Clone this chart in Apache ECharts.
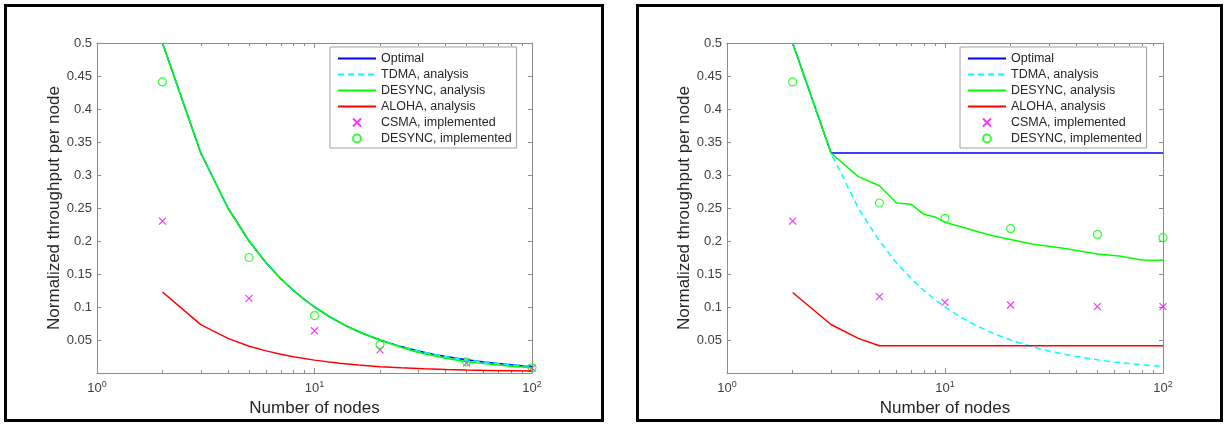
<!DOCTYPE html>
<html>
<head>
<meta charset="utf-8">
<script src="https://cdn.jsdelivr.net/npm/echarts@6/dist/echarts.min.js"></script>
<style>
  html, body { margin: 0; padding: 0; background: #fff; }
  #chart { position: absolute; left: 0; top: 0; width: 1224px; height: 425px; }
  .frame { position: absolute; border: 3px solid #000; box-sizing: border-box; pointer-events: none; }
</style>
</head>
<body>
<div id="chart"></div>
<div class="frame" style="left:4px;top:4px;width:600px;height:418px"></div>
<div class="frame" style="left:636px;top:4px;width:587px;height:418px"></div>
<script>
/* two matlab-style throughput plots, log x axis */
const seriesNames = ['Optimal', 'TDMA, analysis', 'DESYNC, analysis', 'ALOHA, analysis',
  'CSMA, implemented', 'DESYNC, implemented'];

// analysis curves
const tdmaNodes = [2, 3, 4, 5, 6, 7, 8, 9, 10, 12, 14, 16, 18, 20, 25, 30, 35, 40, 45, 50, 60, 70, 80, 90, 100];
const tdmaVals = [0.5, 0.3333, 0.25, 0.2, 0.1667, 0.1429, 0.125, 0.1111, 0.1, 0.0833, 0.0714, 0.0625, 0.0556,
  0.05, 0.04, 0.0333, 0.0286, 0.025, 0.0222, 0.02, 0.0167, 0.0143, 0.0125, 0.0111, 0.01];
const optLeftVals = tdmaVals;
const optRightNodes = [2, 3, 100];
const optRightVals = [0.5, 0.3333, 0.3333];

const desyncLeftNodes = [2, 3, 4, 5, 6, 7, 8, 9, 10, 12, 14, 16, 20, 25, 30, 40, 50, 60, 70, 80, 90, 100];
const desyncLeft = [0.5, 0.3333, 0.25, 0.2, 0.1667, 0.1429, 0.125, 0.1111, 0.1, 0.0833, 0.0714, 0.0625, 0.05,
  0.039, 0.031, 0.0225, 0.0172, 0.0142, 0.012, 0.0103, 0.009, 0.008];
const desyncRightNodes = [2, 3, 4, 5, 6, 7, 8, 9, 10, 16, 25, 35, 50, 63, 80, 100];
const desyncRight = [0.5, 0.3333, 0.2975, 0.2838, 0.2576, 0.2556, 0.2404, 0.2365, 0.2285, 0.209, 0.1955,
  0.189, 0.1803, 0.1773, 0.1712, 0.1707];

const alohaNodes = [2, 3, 4, 5, 6, 7, 8, 10, 13, 16, 20, 25, 32, 40, 50, 63, 80, 100];
const alohaLeft = [0.1227, 0.0732, 0.0525, 0.0405, 0.0335, 0.0285, 0.0245, 0.0195, 0.0148, 0.012, 0.0096,
  0.0078, 0.0063, 0.0053, 0.0045, 0.0039, 0.0034, 0.003];
const alohaRightNodes = [2, 3, 4, 5, 100];
const alohaRight = [0.122, 0.0735, 0.0525, 0.0414, 0.0414];

// measured points
const implNodes = [2, 5, 10, 20, 50, 100];
const csmaLeft = [0.23, 0.113, 0.064, 0.035, 0.015, 0.0075];
const desyncImplLeft = [0.441, 0.175, 0.087, 0.043, 0.017, 0.0078];
const csmaRight = [0.23, 0.1157, 0.107, 0.103, 0.1005, 0.1005];
const desyncImplRight = [0.441, 0.2576, 0.2344, 0.2187, 0.21, 0.205];

const yTicks = { min: 0, max: 0.5, step: 0.05 };
const minorNodes = [2, 3, 4, 5, 6, 7, 8, 9, 20, 30, 40, 50, 60, 70, 80, 90];

const FONT = '"Liberation Sans", Arial, sans-serif';
const AXIS = '#8c8c8c';
const TXT = '#404040';

const pairs = (xs, ys) => xs.map((x, i) => [x, ys[i]]);
const minorPos = minorNodes.map(v => Math.log10(v));

const grids = [
  { left: 97, top: 43, width: 435, height: 330 },
  { left: 727, top: 43, width: 436, height: 330 },
];
const legendLeft = [330, 960];

const xAxes = [], yAxes = [], series = [];

[0, 1].forEach(p => {
  const major = (pos, labels) => ({
    type: 'log', logBase: 10, min: 1, max: 100, gridIndex: p, position: pos,
    name: labels ? 'Number of nodes' : '', nameLocation: 'middle', nameGap: 26,
    nameTextStyle: { fontSize: 17, color: '#262626' },
    axisLine: { onZero: false, lineStyle: { color: AXIS, width: 1 } },
    axisTick: { inside: true, length: 5, lineStyle: { color: AXIS } },
    splitLine: { show: false },
    axisLabel: labels ? {
      margin: 7, color: TXT,
      formatter: v => '{b|10}{s|' + Math.round(Math.log10(v)) + '}',
      rich: { b: { fontSize: 13, color: TXT }, s: { fontSize: 9, color: TXT, padding: [0, 0, 8, 0] } },
    } : { show: false },
  });
  const minor = pos => ({
    type: 'value', min: 0, max: 2, gridIndex: p, position: pos,
    axisLine: { show: false, onZero: false },
    axisTick: { show: true, inside: true, length: 3, customValues: minorPos, lineStyle: { color: AXIS } },
    axisLabel: { show: false }, splitLine: { show: false },
  });
  xAxes.push(major('bottom', true), major('top', false), minor('bottom'), minor('top'));

  const yax = (pos, labels) => ({
    type: 'value', gridIndex: p, position: pos,
    min: yTicks.min, max: yTicks.max, interval: yTicks.step,
    name: labels ? 'Normalized throughput per node' : '', nameLocation: 'middle', nameGap: 33,
    nameTextStyle: { fontSize: 17, color: '#262626' },
    axisLine: { show: true, onZero: false, lineStyle: { color: AXIS, width: 1 } },
    axisTick: { show: true, inside: true, length: 4, lineStyle: { color: AXIS } },
    splitLine: { show: false },
    axisLabel: labels ? {
      margin: 5, fontSize: 13, color: TXT,
      formatter: v => (v === 0 ? '' : String(+v.toFixed(2))),
    } : { show: false },
  });
  yAxes.push(yax('left', true), yax('right', false));

  const xi = 4 * p, yi = 2 * p;
  // transparent itemStyle hides the dot echarts puts on line legend icons
  const line = (name, data, color, dashed) => ({
    name, type: 'line', xAxisIndex: xi, yAxisIndex: yi, data, symbol: 'none',
    lineStyle: { color, width: 1.5, type: dashed ? [6, 4] : 'solid' },
    itemStyle: { color: 'rgba(0,0,0,0)', borderWidth: 0 }, animation: false,
  });
  series.push(
    line(seriesNames[0], p ? pairs(optRightNodes, optRightVals) : pairs(tdmaNodes, optLeftVals), '#0000ff'),
    line(seriesNames[1], pairs(tdmaNodes, tdmaVals), '#00ffff', true),
    line(seriesNames[2], p ? pairs(desyncRightNodes, desyncRight) : pairs(desyncLeftNodes, desyncLeft), '#00ff00'),
    line(seriesNames[3], p ? pairs(alohaRightNodes, alohaRight) : pairs(alohaNodes, alohaLeft), '#ff0000'),
    {
      name: seriesNames[4], type: 'scatter', xAxisIndex: xi, yAxisIndex: yi,
      data: pairs(implNodes, p ? csmaRight : csmaLeft),
      symbol: 'path://M0,0L10,10M10,0L0,10', symbolSize: 7,
      itemStyle: { color: 'rgba(0,0,0,0)', borderColor: '#ff00ff', borderWidth: 1.2 }, animation: false,
    },
    {
      name: seriesNames[5], type: 'scatter', xAxisIndex: xi, yAxisIndex: yi,
      data: pairs(implNodes, p ? desyncImplRight : desyncImplLeft),
      symbol: 'circle', symbolSize: 8,
      itemStyle: { color: 'rgba(0,0,0,0)', borderColor: '#00ff00', borderWidth: 1.2 }, animation: false,
    }
  );
});

const chart = echarts.init(document.getElementById('chart'), null, { renderer: 'canvas' });
chart.setOption({
  animation: false,
  backgroundColor: '#fff',
  textStyle: { fontFamily: FONT },
  grid: grids,
  xAxis: xAxes,
  yAxis: yAxes,
  legend: legendLeft.map(left => ({
    data: seriesNames, orient: 'vertical', left, top: 47,
    itemWidth: 38, itemHeight: 8, itemGap: 3, padding: [5, 5, 3, 7],
    borderColor: '#a0a0a0', borderWidth: 1, borderRadius: 0, backgroundColor: '#fff',
    textStyle: { fontSize: 12.5, lineHeight: 12, color: '#262626', fontFamily: FONT },
    selectedMode: false,
  })),
  series,
});
</script>
</body>
</html>
